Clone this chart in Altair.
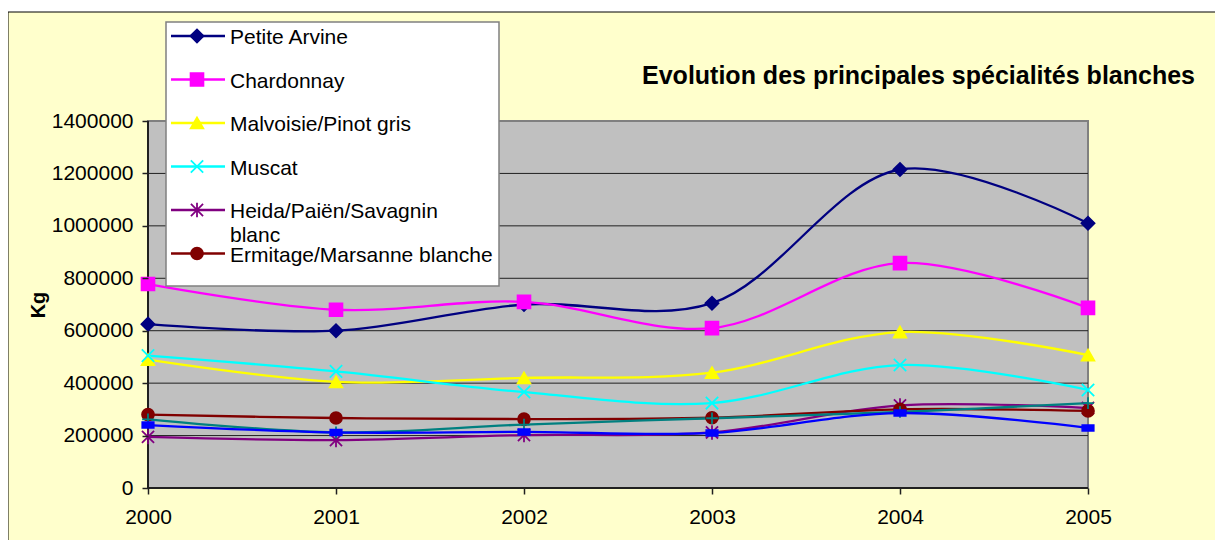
import altair as alt
import pandas as pd

# ---------------- data ----------------
years = [2000, 2001, 2002, 2003, 2004, 2005]

series_names = [
    "Petite Arvine",
    "Chardonnay",
    "Malvoisie/Pinot gris",
    "Muscat",
    "Heida/Paiën/Savagnin blanc",
    "Ermitage/Marsanne blanche",
    "Série 7",
    "Série 8",
]
petite_arvine = [625000, 600000, 700000, 705000, 1215000, 1010000]
chardonnay = [778000, 680000, 710000, 610000, 858000, 687000]
malvoisie = [490000, 405000, 420000, 440000, 595000, 507000]
muscat = [505000, 445000, 366000, 324000, 469000, 374000]
heida = [195000, 183000, 202000, 212000, 315000, 305000]
ermitage = [280000, 267000, 263000, 268000, 300000, 294000]
serie7 = [262000, 212000, 242000, 266000, 290000, 324000]
serie8 = [240000, 212000, 214000, 210000, 286000, 229000]
series_values = [petite_arvine, chardonnay, malvoisie, muscat, heida, ermitage, serie7, serie8]

legend_labels = [
    "Petite Arvine",
    "Chardonnay",
    "Malvoisie/Pinot gris",
    "Muscat",
    "Heida/Paiën/Savagnin\nblanc",
    "Ermitage/Marsanne blanche",
]
y_ticks = [0, 200000, 400000, 600000, 800000, 1000000, 1200000, 1400000]
title_text = "Evolution des principales spécialités blanches"
y_title = "Kg"

# ---------------- styles ----------------
series_colors = ["#000080", "#FF00FF", "#FFFF00", "#00FFFF", "#800080", "#800000", "#008080", "#0000FF"]
X_PATH = "M-1,-1L1,1M-1,1L1,-1"
AST_PATH = "M-1,-1L1,1M-1,1L1,-1M0,-1.2L0,1.2"
PLUS_PATH = "M-1,0L1,0M0,-1L0,1"
DASH_PATH = "M-1,-0.5L1,-0.5L1,0.5L-1,0.5Z"
series_shapes = ["diamond", "square", "triangle-up", X_PATH, AST_PATH, "circle", PLUS_PATH, DASH_PATH]
series_sizes = [170, 130, 190, 130, 130, 170, 150, 90]

FONT = "Liberation Sans"
W, H = 940, 367

rows = []
for name, vals in zip(series_names, series_values):
    for yr, v in zip(years, vals):
        rows.append({"name": name, "year": yr, "kg": v})
df = pd.DataFrame(rows)
one = pd.DataFrame({"k": [0]})
grid_df = pd.DataFrame({"v": y_ticks[1:-1]})
leg_df = pd.DataFrame({"name": series_names[:6], "label": legend_labels, "idx": list(range(6))})
title_df = pd.DataFrame({"t": [title_text]})

color_scale = alt.Scale(domain=series_names, range=series_colors)
shape_scale = alt.Scale(domain=series_names, range=series_shapes)
size_scale = alt.Scale(domain=series_names, range=series_sizes)
y_scale = alt.Scale(domain=[0, 1400000], nice=False, zero=True)
x_scale = alt.Scale(domain=[2000, 2005], nice=False, zero=False)
leg_y = alt.Y("idx:Q", scale=alt.Scale(domain=[0, 5], range=[-85, 132.5]), axis=None)

frame = alt.Chart(one).mark_rect(fill="#FFFFCC", stroke="black", strokeWidth=1).encode(
    x=alt.value(-140), x2=alt.value(W + 300), y=alt.value(-109), y2=alt.value(H + 300)
)
plot_bg = alt.Chart(one).mark_rect(fill="#C0C0C0", stroke="#808080", strokeWidth=2).encode(
    x=alt.value(0), x2=alt.value(W), y=alt.value(0), y2=alt.value(H)
)
grid = alt.Chart(grid_df).mark_rule(color="#202020", strokeWidth=1).encode(
    y=alt.Y("v:Q", scale=y_scale, axis=None), x=alt.value(0), x2=alt.value(W)
)
y_line = alt.Chart(one).mark_rule(color="#202020", strokeWidth=2).encode(
    x=alt.value(0), y=alt.value(0), y2=alt.value(H)
)
x_line = alt.Chart(one).mark_rule(color="#202020", strokeWidth=2).encode(
    x=alt.value(0), x2=alt.value(W), y=alt.value(H)
)

lines = alt.Chart(df).mark_line(interpolate="catmull-rom", strokeWidth=2.3).encode(
    x=alt.X(
        "year:Q",
        scale=x_scale,
        axis=alt.Axis(
            values=years, format="d", domain=False, grid=False, tickColor="#202020",
            tickSize=6, tickWidth=1.5, labelFontSize=21, labelColor="black", labelPadding=12,
            labelFlush=False, labelOverlap=False, title=None, zindex=1,
        ),
    ),
    y=alt.Y(
        "kg:Q",
        scale=y_scale,
        axis=alt.Axis(
            values=y_ticks, format="d", domain=False, grid=False, tickColor="#202020",
            tickSize=6, tickWidth=1.5, labelFontSize=21, labelColor="black", labelPadding=9,
            labelOverlap=False, title=y_title, titleFontSize=20, titleFontWeight="bold",
            titleColor="black", titleX=-110, titleY=H / 2, titleBaseline="middle",
            titleAngle=-90, zindex=1,
        ),
    ),
    color=alt.Color("name:N", scale=color_scale, legend=None),
    detail="name:N",
)
points = alt.Chart(df).mark_point(filled=True, opacity=1, strokeWidth=1.8).encode(
    x=alt.X("year:Q", scale=x_scale),
    y=alt.Y("kg:Q", scale=y_scale, axis=None),
    color=alt.Color("name:N", scale=color_scale, legend=None),
    stroke=alt.Stroke("name:N", scale=color_scale, legend=None),
    shape=alt.Shape("name:N", scale=shape_scale, legend=None),
    size=alt.Size("name:N", scale=size_scale, legend=None),
)

legend_box = alt.Chart(one).mark_rect(fill="white", stroke="#808080", strokeWidth=1.5).encode(
    x=alt.value(18), x2=alt.value(351), y=alt.value(-99), y2=alt.value(165)
)
legend_lines = alt.Chart(leg_df).mark_rule(strokeWidth=2.3).encode(
    x=alt.value(23), x2=alt.value(77), y=leg_y,
    color=alt.Color("name:N", scale=color_scale, legend=None),
)
legend_points = alt.Chart(leg_df).mark_point(filled=True, opacity=1, strokeWidth=1.8).encode(
    x=alt.value(49), y=leg_y,
    color=alt.Color("name:N", scale=color_scale, legend=None),
    stroke=alt.Stroke("name:N", scale=color_scale, legend=None),
    shape=alt.Shape("name:N", scale=shape_scale, legend=None),
    size=alt.Size("name:N", scale=size_scale, legend=None),
)
legend_text = alt.Chart(leg_df).mark_text(
    align="left", baseline="top", dy=-9, lineBreak="\n", lineHeight=24,
    fontSize=21, color="black", font=FONT,
).encode(x=alt.value(82), y=leg_y, text="label:N")

title_mark = alt.Chart(title_df).mark_text(
    align="right", baseline="middle", fontSize=25, fontWeight="bold", color="black", font=FONT
).encode(x=alt.value(1047), y=alt.value(-45), text="t:N")

chart = (
    alt.layer(
        frame, plot_bg, grid, y_line, x_line, lines, points,
        legend_box, legend_lines, legend_points, legend_text, title_mark,
    )
    .resolve_scale(y="independent")
    .properties(
        width=W, height=H,
        padding={"left": 140, "top": 113, "right": 127, "bottom": 52},
        autosize=alt.AutoSizeParams(type="none"),
        background="white",
    )
    .configure(font=FONT)
    .configure_view(strokeWidth=0)
)

chart.save("out.html", embed_options={"renderer": "svg", "actions": False})
